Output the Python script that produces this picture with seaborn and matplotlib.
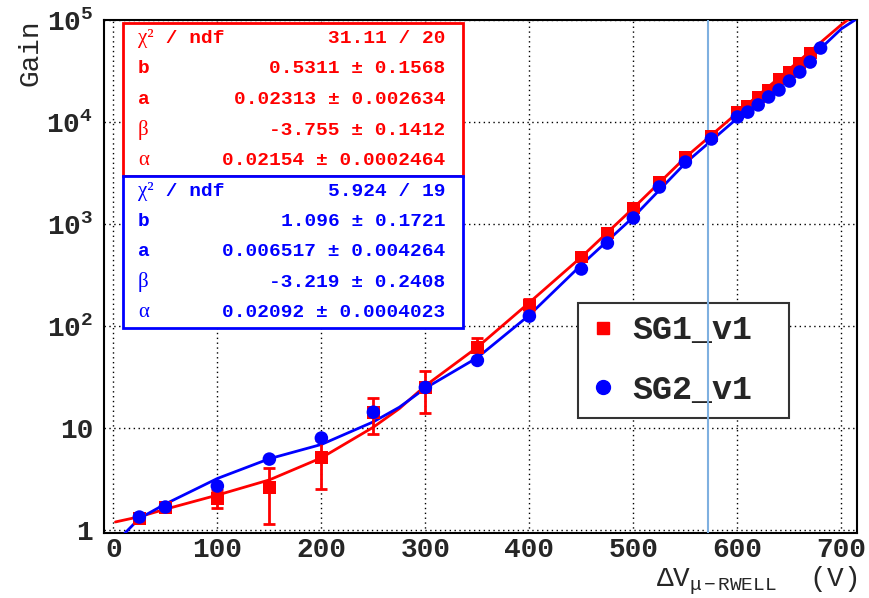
import math
import pandas as pd
import seaborn as sns
import matplotlib
matplotlib.use("Agg")
import matplotlib.pyplot as plt
from matplotlib.ticker import MultipleLocator, LogLocator, FixedLocator, FuncFormatter, NullFormatter
from matplotlib.lines import Line2D
from matplotlib.patches import Rectangle

# measured points
sg1_v = [25, 50, 100, 150, 200, 250, 300, 350, 400, 450, 475, 500, 525, 550, 575,
         600, 610, 620, 630, 640, 650, 660, 670]
sg1_gain = [1.3, 1.65, 2.05, 2.6, 5.1, 14.3, 25, 62, 161, 475, 816, 1435, 2580, 4540, 7290,
            12500, 14300, 17600, 20600, 26400, 30900, 37900, 47500]
sg1_err = [0.05, 0.08, 0.4, 1.45, 2.6, 5.5, 11, 15, 25, 20, 35, 60, 110, 200, 320,
           550, 620, 770, 900, 1150, 1350, 1650, 2100]

sg2_v = [25, 50, 100, 150, 200, 250, 300, 350, 400, 450, 475, 500, 525, 550, 575,
         600, 610, 620, 630, 640, 650, 660, 670, 680]
sg2_gain = [1.34, 1.68, 2.7, 4.96, 7.98, 14.3, 25, 46, 125, 362, 651, 1145, 2305, 4050, 6810,
            11200, 12500, 14700, 17600, 20600, 25200, 30900, 38700, 53100]

# fitted curves
fit1_v = [2, 25, 50, 100, 150, 200, 250, 275, 300, 350, 400, 450, 500, 550, 600, 650, 700, 706]
fit1_gain = [1.2, 1.35, 1.6, 2.2, 3.1, 5.1, 10.2, 15.5, 26, 62, 170, 475, 1435, 4500, 12300,
             33000, 90000, 100000]
fit2_v = [11, 25, 50, 100, 150, 200, 250, 275, 300, 350, 400, 450, 500, 550, 600, 650, 700, 713]
fit2_gain = [0.93, 1.3, 1.8, 3.2, 5.0, 6.9, 11.5, 16, 24.6, 49, 128, 398, 1170, 3960, 10900,
             27000, 82000, 100000]

fit1_names = ["χ²", "b", "a", "β", "α"]
fit1_values = ["31.11 / 20", "0.5311 ± 0.1568", "0.02313 ± 0.002634",
               "-3.755 ± 0.1412", "0.02154 ± 0.0002464"]
fit2_names = ["χ²", "b", "a", "β", "α"]
fit2_values = ["5.924 / 19", "1.096 ± 0.1721", "0.006517 ± 0.004264",
               "-3.219 ± 0.2408", "0.02092 ± 0.0004023"]

marker_v = 572

RED = "#ff0000"
BLUE = "#0000ff"
MONO = "Liberation Mono"

sns.set_style("white")
plt.rcParams["font.family"] = [MONO, "DejaVu Sans"]
plt.rcParams["font.weight"] = "bold"
plt.rcParams["mathtext.fontset"] = "custom"
plt.rcParams["mathtext.rm"] = "Liberation Mono:bold"
plt.rcParams["mathtext.it"] = "Liberation Mono:bold"
plt.rcParams["mathtext.bf"] = "Liberation Mono:bold"

fig = plt.figure(figsize=(8.69, 5.98), dpi=100)
ax = fig.add_axes([104 / 869, 1 - 533 / 598, 753 / 869, 513 / 598])

# vertical marker drawn over the legend box, like the original
ax.axvline(marker_v, color="#7fb0e0", lw=1.5, zorder=14)

df1 = pd.DataFrame({"v": fit1_v, "gain": fit1_gain})
df2 = pd.DataFrame({"v": fit2_v, "gain": fit2_gain})
sns.lineplot(data=df1, x="v", y="gain", color=RED, lw=2.0, sort=False, estimator=None, ax=ax, zorder=3)
sns.lineplot(data=df2, x="v", y="gain", color=BLUE, lw=2.0, sort=False, estimator=None, ax=ax, zorder=3)

ax.errorbar(sg1_v, sg1_gain, yerr=sg1_err, fmt="none", ecolor=RED, elinewidth=2.0,
            capsize=4, capthick=2.0, zorder=4)
pts1 = pd.DataFrame({"v": sg1_v, "gain": sg1_gain})
pts2 = pd.DataFrame({"v": sg2_v, "gain": sg2_gain})
sns.scatterplot(data=pts1, x="v", y="gain", marker="s", s=85, color=RED, edgecolor="none", ax=ax, zorder=15)
sns.scatterplot(data=pts2, x="v", y="gain", marker="o", s=95, color=BLUE, edgecolor="none", ax=ax, zorder=16)

ax.set_yscale("log")
ax.set_xlim(-9, 715)
ax.set_ylim(0.935, 1e5)

ax.xaxis.set_major_locator(MultipleLocator(100))
ax.xaxis.set_minor_locator(MultipleLocator(20))
ax.yaxis.set_major_locator(FixedLocator([1, 10, 100, 1e3, 1e4, 1e5]))
ax.yaxis.set_minor_locator(LogLocator(base=10, subs=range(2, 10)))
ax.yaxis.set_minor_formatter(NullFormatter())


def ylab(val, pos):
    e = int(round(math.log10(val)))
    if e == 0:
        return "1"
    if e == 1:
        return "10"
    return r"$\mathregular{10^{%d}}$" % e


ax.yaxis.set_major_formatter(FuncFormatter(ylab))
ax.tick_params(which="both", direction="in", top=False, right=False, width=1.2, color="k")
ax.tick_params(which="major", length=14, labelsize=20)
ax.tick_params(axis="x", which="major", pad=3)
ax.tick_params(axis="y", which="major", pad=8)
ax.tick_params(which="minor", length=7)

ax.grid(True, which="major", ls=(0, (1, 2.5)), color="k", lw=1.0)
for sp in ax.spines.values():
    sp.set_color("k")
    sp.set_linewidth(1.5)

ax.set_xlabel(r"$\mathregular{ΔV_{μ-RWELL}}$  (V)", fontsize=20, loc="right")
ax.xaxis.set_label_coords(1.0, -0.062)
ax.xaxis.label.set_va("top")
ax.set_ylabel("Gain", fontsize=20, loc="top")
ax.yaxis.set_label_coords(-0.08, 1.0)

# fit statistics boxes
boxes = [(fit1_names, fit1_values, RED, 0.994, 0.696),
         (fit2_names, fit2_values, BLUE, 0.696, 0.400)]
for names, values, col, top, bot in boxes:
    ax.add_patch(Rectangle((0.025, bot), 0.452, top - bot, transform=ax.transAxes,
                           facecolor="white", edgecolor=col, lw=2.0, zorder=10, clip_on=False))
    step = (top - bot) / 5
    for i, (nm, vl) in enumerate(zip(names, values)):
        y = top - step * (i + 0.5)
        if nm in ("χ²", "β", "α"):
            t = ax.text(0.045, y, nm, transform=ax.transAxes, color=col, fontsize=15,
                        family="Liberation Serif", weight="normal", va="center", ha="left", zorder=11)
            if nm == "χ²":
                ax.annotate(" / ndf", xy=(1, 0.5), xycoords=t, color=col, fontsize=14,
                            va="center", ha="left", zorder=11)
        else:
            ax.text(0.045, y, nm, transform=ax.transAxes, color=col, fontsize=14,
                    va="center", ha="left", zorder=11)
        ax.text(0.453, y, vl, transform=ax.transAxes, color=col, fontsize=14,
                va="center", ha="right", zorder=11)

# legend: frame drawn as its own box
ax.add_patch(Rectangle((0.629, 0.224), 0.281, 0.224, transform=ax.transAxes,
                       facecolor="white", edgecolor="#333333", lw=1.5, zorder=12))
handles = [Line2D([], [], ls="none", marker="s", color=RED, markersize=9),
           Line2D([], [], ls="none", marker="o", color=BLUE, markersize=10)]
leg = ax.legend(handles, ["SG1_v1", "SG2_v1"], loc="center left",
                bbox_to_anchor=(0.629, 0.336), borderaxespad=0,
                fontsize=24, frameon=False, borderpad=0.35, labelspacing=0.85,
                handlelength=0.8, handletextpad=0.5)
leg.set_zorder(13)

fig.savefig("out.png", dpi=100)
